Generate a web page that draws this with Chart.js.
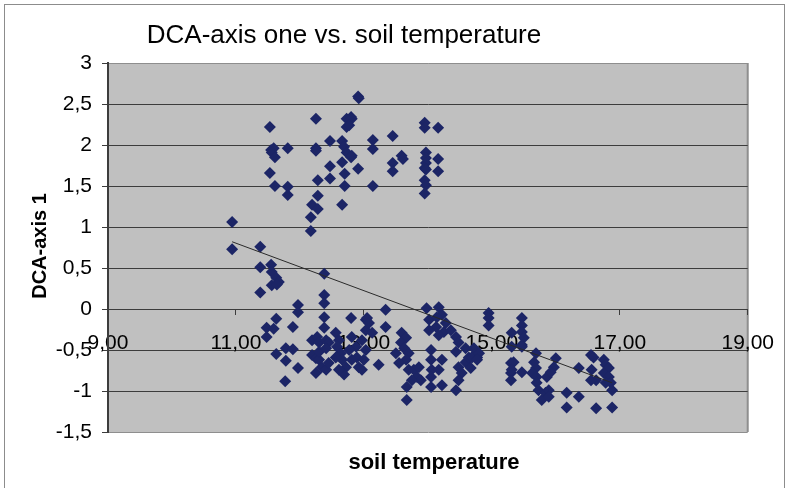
<!DOCTYPE html>
<html>
<head>
<meta charset="utf-8">
<script src="https://cdn.jsdelivr.net/npm/chart.js@4"></script>
<style>
    body { margin: 0; background: #fff; }
    #wrap { position: relative; width: 790px; height: 488px; overflow: hidden; }
    #frame { position: absolute; left: 4px; top: 4px; width: 779px; height: 520px; border: 1px solid #8c8c8c; }
    canvas { position: absolute; left: 0; top: 0; }
</style>
</head>
<body>
<div id="wrap">
    <div id="frame"></div>
    <canvas id="myChart" width="790" height="488"></canvas>
</div>
<script>
// data
const temperature = [
    11.53, 11.55, 11.59, 11.56, 11.61, 11.81, 11.53, 11.61, 11.81, 11.81,
    12.25, 12.25, 12.25, 12.47, 12.47, 12.28, 12.47, 12.28, 12.19, 12.28,
    12.17, 12.17, 12.66, 12.69, 12.73, 12.80, 12.81, 12.66, 12.70, 12.70,
    12.66, 12.91, 12.73, 12.80, 12.81, 12.73, 12.77, 12.91, 12.92, 13.14,
    13.14, 13.14, 13.45, 13.45, 13.45, 13.59, 13.61, 13.95, 13.95, 14.16,
    13.97, 13.97, 13.97, 13.95, 13.97, 14.16, 14.16, 13.95, 13.97, 13.95,
    10.94, 10.94, 11.38, 11.38, 11.55, 11.56, 11.63, 11.67, 11.56, 11.64,
    11.38, 11.97, 11.97, 12.38, 12.38, 12.38, 12.38, 12.38, 12.80, 11.63,
    11.48, 11.59, 11.48, 11.89, 11.63, 11.78, 11.89, 11.78, 11.97, 11.77,
    12.19, 12.27, 12.30, 12.41, 12.45, 12.19, 12.25, 12.30, 12.34, 12.25,
    12.41, 12.45, 12.30, 12.41, 12.56, 12.61, 12.58, 12.64, 12.66, 12.72,
    12.69, 12.56, 12.81, 12.88, 12.89, 12.92, 12.81, 12.77, 12.61, 13.03,
    13.03, 13.34, 13.05, 13.08, 13.13, 13.34, 12.97, 13.03, 13.00, 12.97,
    13.23, 13.59, 13.66, 13.58, 13.63, 13.50, 13.70, 13.66, 13.55, 13.70,
    13.78, 13.86, 13.83, 13.89, 13.75, 13.67, 13.67, 14.05, 14.05, 14.06,
    14.05, 14.05, 14.22, 14.17, 14.22, 14.44, 14.48, 14.53, 14.48, 14.59,
    14.64, 14.75, 13.98, 14.17, 14.22, 14.02, 14.13, 14.28, 14.25, 14.36,
    14.44, 14.48, 14.17, 14.02, 14.44, 14.59, 14.72, 14.77, 14.14, 14.95,
    14.95, 14.95, 14.69, 14.80, 14.77, 14.67, 15.47, 15.47, 15.47, 15.50,
    15.47, 15.31, 15.31, 15.47, 15.30, 15.34, 15.30, 15.30, 15.47, 15.31,
    15.69, 15.66, 15.69, 15.63, 15.70, 15.70, 15.73, 15.84, 15.78, 15.89,
    15.89, 15.86, 16.00, 15.97, 15.92, 16.17, 16.17, 16.36, 16.36, 16.55,
    16.59, 16.56, 16.63, 16.55, 16.75, 16.78, 16.83, 16.75, 16.83, 16.78,
    16.86, 16.88, 16.88, 16.63
]
const dcaAxis1 = [
    2.22, 1.94, 1.96, 1.91, 1.85, 1.96, 1.66, 1.50, 1.49, 1.39,
    2.32, 1.96, 1.93, 2.05, 1.74, 1.57, 1.59, 1.38, 1.27, 1.22,
    1.12, 0.95, 2.05, 1.98, 1.91, 1.85, 1.87, 1.79, 1.65, 1.50,
    1.27, 1.71, 2.32, 2.34, 2.32, 2.22, 2.24, 2.59, 2.57, 2.06,
    1.95, 1.50, 2.11, 1.78, 1.68, 1.87, 1.83, 2.27, 2.21, 2.21,
    1.91, 1.84, 1.78, 1.72, 1.70, 1.83, 1.68, 1.57, 1.51, 1.41,
    1.06, 0.73, 0.76, 0.51, 0.54, 0.45, 0.38, 0.33, 0.29, 0.30,
    0.20, 0.05, -0.04, 0.43, 0.17, 0.07, -0.10, -0.23, -0.11, -0.12,
    -0.23, -0.24, -0.34, -0.22, -0.55, -0.48, -0.49, -0.63, -0.72, -0.88,
    -0.38, -0.34, -0.41, -0.38, -0.41, -0.56, -0.60, -0.62, -0.71, -0.78,
    -0.74, -0.66, -0.52, -0.48, -0.29, -0.38, -0.46, -0.54, -0.62, -0.71,
    -0.80, -0.59, -0.34, -0.46, -0.59, -0.71, -0.62, -0.50, -0.74, -0.13,
    -0.26, -0.01, -0.11, -0.17, -0.29, -0.22, -0.38, -0.50, -0.62, -0.74,
    -0.68, -0.29, -0.35, -0.41, -0.48, -0.54, -0.54, -0.62, -0.66, -0.74,
    -0.74, -0.71, -0.83, -0.87, -0.87, -0.95, -1.11, -0.50, -0.62, -0.74,
    -0.83, -0.95, -0.93, -0.74, -0.62, -0.99, -0.71, -0.78, -0.87, -0.65,
    -0.59, -0.54, 0.01, 0.02, -0.07, -0.13, -0.22, -0.17, -0.28, -0.26,
    -0.34, -0.41, -0.32, -0.26, -0.52, -0.48, -0.48, -0.59, -0.10, -0.05,
    -0.11, -0.20, -0.59, -0.54, -0.62, -0.72, -0.11, -0.20, -0.28, -0.35,
    -0.44, -0.29, -0.46, -0.46, -0.66, -0.65, -0.78, -0.87, -0.77, -0.74,
    -0.54, -0.65, -0.72, -0.78, -0.83, -0.90, -0.99, -1.02, -1.11, -0.99,
    -1.07, -0.83, -0.60, -0.71, -0.77, -1.02, -1.20, -1.07, -0.72, -0.56,
    -0.59, -0.74, -0.87, -0.87, -0.62, -0.68, -0.72, -0.78, -0.83, -0.90,
    -0.90, -0.99, -1.20, -1.21
]
const trendTemperature = [10.94, 16.88]
const trendDca = [0.82, -0.90]
const xTicks = [9, 11, 13, 15, 17, 19]
const yTicks = [-1.5, -1, -0.5, 0, 0.5, 1, 1.5, 2, 2.5, 3]

const FONT = '"Liberation Sans", Arial, sans-serif'
const GRID = '#3c3c3c'
const EDGE = '#8e8e8e'

function main() {
    buildChart("myChart")
}

// functions
function toPoints(xs, ys) {
    return xs.map((x, i) => ({ x: x, y: ys[i] }))
}

function withComma(text) {
    return text.replace('.', ',')
}

const plotBackground = {
    id: 'plotBackground',
    beforeDraw(chart) {
        const a = chart.chartArea
        const ctx = chart.ctx
        ctx.save()
        ctx.fillStyle = '#c0c0c0'
        ctx.fillRect(a.left, a.top, a.right - a.left, a.bottom - a.top)
        ctx.strokeStyle = EDGE
        ctx.lineWidth = 2
        ctx.beginPath()
        ctx.moveTo(a.right, a.top)
        ctx.lineTo(a.right, a.bottom)
        ctx.stroke()
        ctx.restore()
    }
}

const chartTexts = {
    id: 'chartTexts',
    afterDraw(chart) {
        const ctx = chart.ctx
        ctx.save()
        ctx.fillStyle = '#000'
        ctx.textAlign = 'center'
        ctx.textBaseline = 'middle'

        ctx.font = '26px ' + FONT
        ctx.fillText('DCA-axis one vs. soil temperature', 344, 36)

        ctx.font = 'bold 22px ' + FONT
        ctx.fillText('soil temperature', 434, 463)

        ctx.translate(40, 246)
        ctx.rotate(-Math.PI / 2)
        ctx.font = 'bold 20px ' + FONT
        ctx.fillText('DCA-axis 1', 0, 0)
        ctx.restore()
    }
}

function buildChart(canvasId) {
    const ctx = document.getElementById(canvasId)

    new Chart(ctx, {
        type: 'scatter',
        data: {
            datasets: [
                {
                    label: 'trend',
                    data: toPoints(trendTemperature, trendDca),
                    showLine: true,
                    borderColor: '#2a2a2a',
                    borderWidth: 1,
                    pointRadius: 0
                },
                {
                    label: 'DCA-axis 1',
                    data: toPoints(temperature, dcaAxis1),
                    pointStyle: 'rectRot',
                    pointRadius: 6,
                    backgroundColor: '#1c2566',
                    borderColor: '#1c2566',
                    borderWidth: 0
                }
            ]
        },
        options: {
            responsive: false,
            animation: false,
            devicePixelRatio: 1,
            events: [],
            layout: {
                padding: { left: 0, top: 63, right: 40, bottom: 56 }
            },
            plugins: {
                legend: { display: false },
                tooltip: { enabled: false }
            },
            scales: {
                x: {
                    type: 'linear',
                    position: { y: 0 },
                    min: 9,
                    max: 19,
                    afterBuildTicks: scale => { scale.ticks = xTicks.map(v => ({ value: v })) },
                    ticks: {
                        callback: v => withComma(v.toFixed(2)),
                        font: { family: FONT, size: 21 },
                        color: '#000',
                        padding: 16,
                        maxRotation: 0,
                        autoSkip: false
                    },
                    grid: { drawOnChartArea: false, tickLength: 6, color: GRID },
                    border: { display: false }
                },
                y: {
                    min: -1.5,
                    max: 3,
                    afterBuildTicks: scale => { scale.ticks = yTicks.map(v => ({ value: v })) },
                    afterFit: scale => { scale.width = 108 },
                    ticks: {
                        callback: v => withComma(String(v)),
                        font: { family: FONT, size: 21 },
                        color: '#000',
                        padding: 10
                    },
                    grid: {
                        color: c => (c.tick && (c.tick.value === 3 || c.tick.value === -1.5)) ? EDGE : GRID,
                        tickColor: GRID,
                        tickLength: 6,
                        lineWidth: 1
                    },
                    border: { color: GRID, width: 2 }
                }
            }
        },
        plugins: [plotBackground, chartTexts]
    })
}

// listeners
document.addEventListener("DOMContentLoaded", main)
</script>
</body>
</html>
